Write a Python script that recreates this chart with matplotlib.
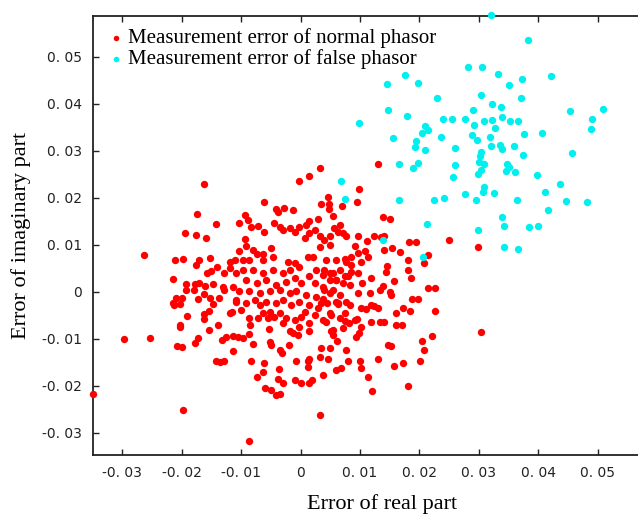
import numpy as np
import matplotlib
matplotlib.use("Agg")
import matplotlib.pyplot as plt
from matplotlib.ticker import FuncFormatter

# measurement errors of the normal phasor (real part, imaginary part), in 1e-3
normal_x = [13.0, 9.8, 9.5, 7.0, 4.6, 13.8, 15.1, 24.9, 29.9, 18.3, 19.5, 3.2,
            30.4, 21.4, 22.6, 22.6, 22.1, 20.5, 20.8, 20.1, 18.1, 12.0, 11.3, 10.2, 10.0, 13.0, 15.8, 17.3,
            3.2, 3.7, 5.9, 6.8, 7.9, 4.7, 5.0, 7.6, 14.7, 15.2, 18.7, 19.7, 18.4, 17.2, 16.0, 16.0, 17.0,
            18.0, 18.5, 20.8, 14.5, 14.4, 15.8, 15.0, 15.2, 13.8, 13.4, 11.9, 11.6, 10.3, 9.6, 10.2, 11.0,
            12.4, 11.9, 13.0, 11.9, 13.3, 14.1, 10.2, 9.1, 9.5, 8.2, 7.4, 6.6, 5.2, 4.3, 3.7, 7.2, 5.4,
            9.4, 9.9, 6.1, 8.4, 7.6, 6.3, 4.4, 3.7, 5.4, 4.0, 7.2, 8.4, 6.0, 4.9, 5.4, 6.6, 8.5, 7.7,
            10.2, 4.0,
            7.7, 9.6, 11.2, 12.3, 13.6, 14.1, 14.0, 15.4, 16.8, 18.0, 9.1, 9.7, 10.8, 11.3, 8.5, 21.4,
            8.5, 9.6, 7.9,
            -16.3, -17.4, -14.2, -19.5, -17.6, -15.9, -26.4, -21.1, -19.7, -17.0, -15.3, -17.5, -11.9,
            -14.0, -15.7, -15.0, -12.8, -21.5, -19.3, -17.8, -17.1, -16.1, -14.7, -19.2, -18.0, -16.3,
            -13.1, -12.8, -13.7, -15.3, -17.3, -20.9, -19.9, -21.5,
            -29.7, -25.4, -21.2, -20.3, -19.1, -20.2, -20.2, -16.3, -16.3, -15.4, -14.8, -11.9, -13.9,
            -15.4, -20.8, -19.9, -17.7, -17.3, -13.2, -12.5, -14.3, -13.5, -12.8, -19.8, -34.9, -8.6,
            -11.3, -11.4, -10.5, -9.6, -8.7, -8.0, -8.4, -6.2, -6.3, -7.4, -5.9, -4.9, -4.1, -3.5, -3.7,
            -3.8, -2.9, -5.1, -4.9, -3.4, -3.1, -2.0, -0.7, -1.0, 0.1, 1.4, 1.9, 1.3, 1.3, 1.5, 3.2, 3.5,
            -10.8, -10.0, -8.6, -8.5, -7.2, -6.3, -5.2, -4.4, -5.3, -3.5, -3.0, -1.8, -1.3, -0.5, -0.2,
            -1.0, 0.1, 1.5, 1.5, 2.4, 2.9, 5.2, 5.4, 4.9, 7.4, 6.3, 3.5, -1.6, 1.5, -4.1, -6.9, -9.1,
            -5.5, -2.4, 0.8, -11.5,
            1.5, -0.3, -6.1, -4.2, -3.8, -2.7, -1.3, 3.5, 4.8, 4.8, 2.9, 5.4, -9.4, -8.9, -10.4, -8.3,
            -7.2, -6.1, -4.4, -3.5, -3.0, -1.8, -1.0, -0.2, 1.0, 1.5, 2.4, 3.2, 4.0, 4.9, 5.7, 6.3, 7.1,
            6.6, 1.5, 0.7, 3.2, 4.9, -9.4, -9.1, -10.3, -8.0, -7.4, -6.3, -4.9, -4.7, -11.1, -9.7, -8.6,
            -6.3, 1.2, 2.1, 4.3, 6.0, 7.4, -2.1, -1.0, -0.2, -1.8, -3.0, -4.7, -6.3, -8.0, -9.7, -10.8,
            -11.9, -9.1, -7.4, -5.8, -4.1, -2.4, -1.0, 0.1, 1.5, 2.6, 3.7, 4.9, 6.0, 7.4, 2.4, 3.7,
            -11.4, -10.3, -8.6, -6.9, -5.2, -3.5, -1.8, -0.7, 1.0, 2.6, 4.9, 6.6, -10.8, -7.7, -5.8,
            -3.0, -0.2, 6.0]
normal_y = [27.2, 21.9, 19.1, 18.2, 20.1, 15.9, 15.5, 11.1, 9.6, 10.7, 10.7, 26.3,
            -8.6, 0.9, 0.9, -4.0, -9.3, -10.4, -12.3, -14.6, -20.1, -21.0, -18.0, -16.2, -14.8, -14.3,
            -15.7, -15.2, -26.2, -17.7, -16.6, -16.2, -14.6, -14.2, -12.0, -12.3, -11.4, -11.5, -1.6,
            -1.6, -4.0, -3.5, -4.5, -7.1, -7.1, 4.7, 2.9, 6.2, 5.6, 4.2, 2.3, -0.1, -0.6, 1.3, 0.4, 2.9,
            -0.2, 1.9, -0.3, -3.5, -3.7, -3.1, -2.8, -3.5, -6.3, -6.3, -6.5, -7.4, -6.0, -5.8, -6.7,
            -6.1, -5.6, -4.9, -6.3, -6.0, -7.7, -8.1, -9.5, -8.8, -10.4, -2.8, -2.1, -2.3, -2.4, -1.6,
            0.4, 0.4, 1.9, 1.5, 2.6, 2.6, 4.0, 4.7, 5.7, 6.4, 6.4, 4.7,
            11.8, 11.8, 10.9, 11.8, 11.6, 11.9, 8.9, 9.4, 8.4, 6.8, 9.8, 8.2, 8.6, 7.5, 7.5, 7.9,
            4.3, 4.1, 3.3,
            22.9, 16.6, 14.5, 12.6, 12.1, 11.5, 7.8, 6.7, 6.9, 6.7, 7.2, 5.7, 6.4, 5.2, 4.0, 4.5, 4.0,
            2.8, 1.7, 1.7, 2.0, 1.3, 1.7, 0.4, 0.4, -0.5, 1.1, 0.4, -1.2, -1.3, -1.6, -1.3, -1.2, -2.4,
            -10.1, -9.9, -2.8, -2.6, -5.1, -7.0, -7.5, -4.7, -5.7, -4.0, -2.6, -4.4, -7.0, -8.1, -11.5,
            -11.8, -10.8, -9.9, -10.2, -9.6, -14.7, -15.0, -14.7, -25.2, -21.7, -31.7,
            -12.5, -9.4, -9.5, -9.9, -8.9, -11.1, -14.6, -15.2, -17.0, -18.2, -20.4, -20.9, -21.9,
            -21.8, -16.5, -18.6, -19.4, -10.6, -11.3, -12.3, -13.0, -11.4, -14.6, -18.7, -19.3, -19.4,
            -18.7, -14.8, -15.9, -14.3, -13.9, -12.0,
            -2.1, -3.8, -5.6, -7.0, -5.6, -4.5, -4.2, -5.3, -7.9, -4.5, -6.7, -8.4, -8.8, -9.1, -7.4,
            -6.0, -5.3, -6.7, -8.4, -4.9, -3.5, -8.4, -9.1, -4.5, -4.5, -2.6, -2.4, -2.8, -2.8, -2.4,
            -2.8, -2.4, -5.6, -5.6, -4.2, -4.2,
            24.7, 23.7, 19.1, 17.7, 17.1, 17.8, 17.4, 18.7, 18.7, 17.6, 15.5, 16.2, 16.4, 15.3, 14.6,
            13.9, 14.0, 12.8, 14.6, 13.9, 13.2, 13.5, 12.8, 13.9, 14.3, 15.0, 13.2, 11.8, 11.1, 11.8,
            13.5, 12.8, 12.5, 14.3, 12.5, 11.4, 9.6, 10.0, 11.2, 9.8, 8.6, 8.9, 8.0, 8.0, 9.3, 7.5, 6.8,
            6.8, 6.8, 6.8, 7.4, 7.4, 6.8, 6.8, 7.0, 6.4, 6.1, 5.4, 4.7, 4.0, 4.7, 4.0, 4.7, 4.7, 4.0,
            5.0, 2.6, 1.9, 2.6, 1.5, 2.2, 2.9, 1.9, 3.3, 4.7, 3.6, 4.0, 2.6, 3.3, 1.9, 1.1,
            1.1, 0.1, 0.1, -0.3, 0.1, 0.4, -0.3, 0.1, -0.6, -1.0, -0.3, -0.6, -1.7, -1.7, -2.1,
            -1.7, -2.1, -2.1]

# measurement errors of the false phasor, in 1e-3
false_x = [32.0, 38.2, 28.1, 30.5, 33.2, 37.3, 42.2, 14.6, 17.6, 19.7, 35.1, 22.9, 30.3, 37.0,
           14.7, 17.9, 9.8, 29.0, 32.2, 33.7, 24.0, 25.4, 27.6, 30.9, 32.2, 33.9, 35.2, 36.5, 29.1,
           32.7, 45.4, 50.8, 49.1, 48.9, 21.0, 21.4, 20.5, 23.7, 15.5, 19.4, 19.2, 28.9, 29.6, 31.9,
           37.5, 40.6, 25.9, 21.0, 32.0, 33.6, 33.8, 35.9, 30.4, 30.1, 37.4, 45.6, 16.5, 19.7, 18.9,
           25.9, 30.0, 30.9, 34.8, 35.1, 34.5, 36.1, 25.6, 30.4, 29.9, 39.7, 6.8, 43.6, 30.8, 30.7,
           32.5, 27.7, 41.1, 7.4, 16.6, 22.4, 24.1, 29.5, 36.4, 44.6, 48.1, 41.6, 33.8, 21.2, 34.2,
           38.4, 39.9, 29.8, 13.8, 34.2, 36.6, 20.6]
false_y = [58.9, 53.5, 47.9, 47.9, 46.4, 45.3, 46.0, 44.3, 46.2, 44.5, 44.0, 41.3, 41.8, 41.2,
           38.7, 37.4, 35.9, 38.7, 39.9, 39.4, 36.8, 36.8, 36.7, 36.4, 36.6, 37.3, 36.4, 36.4, 35.6,
           34.8, 38.4, 38.9, 36.7, 34.6, 35.3, 34.5, 33.8, 33.0, 32.7, 32.1, 30.9, 33.3, 32.3, 32.9,
           33.7, 33.8, 30.7, 30.1, 31.1, 31.2, 30.5, 31.1, 29.7, 28.9, 29.2, 29.5, 27.2, 27.5, 26.4,
           26.9, 27.6, 27.3, 27.2, 26.5, 25.7, 25.6, 24.4, 26.0, 25.0, 24.8, 23.5, 23.0, 22.3, 21.2,
           21.1, 20.9, 21.3, 19.7, 19.6, 19.5, 20.0, 19.6, 19.6, 19.3, 19.2, 17.4, 16.0, 14.5, 14.0,
           13.8, 14.0, 13.2, 11.0, 9.6, 9.2, 7.5]

xticks = [-0.03, -0.02, -0.01, 0, 0.01, 0.02, 0.03, 0.04, 0.05]
yticks = [-0.03, -0.02, -0.01, 0, 0.01, 0.02, 0.03, 0.04, 0.05]

nx = np.array(normal_x) / 1000
ny = np.array(normal_y) / 1000
fx = np.array(false_x) / 1000
fy = np.array(false_y) / 1000

fig = plt.figure(figsize=(6.38, 5.16), dpi=100)
# right edge of the axes lies past the picture, as in the reference crop
ax = fig.add_axes([0.1458, 0.1182, 0.9059, 0.8508])

ax.scatter(nx, ny, s=28, color='#ff0000', linewidths=0,
           label='Measurement error of normal phasor', clip_on=False, zorder=3)
ax.scatter(fx, fy, s=28, color='#00f0f0', linewidths=0,
           label='Measurement error of false phasor', clip_on=False, zorder=3)

ax.set_xlim(-0.0349, 0.0623)
ax.set_ylim(-0.0347, 0.0587)
ax.set_xticks(xticks)
ax.set_yticks(yticks)

def fmt(v, pos):
    if abs(v) < 1e-9:
        return '0'
    return ('%.2f' % v).replace('.', '. ')

ax.xaxis.set_major_formatter(FuncFormatter(fmt))
ax.yaxis.set_major_formatter(FuncFormatter(fmt))
ax.tick_params(direction='in', length=4, width=1, top=True, right=False,
               labelsize=10, pad=8, colors='#222222')
for lab in ax.get_xticklabels() + ax.get_yticklabels():
    lab.set_family('DejaVu Sans')

ax.spines['right'].set_visible(False)
for s in ['left', 'bottom', 'top']:
    ax.spines[s].set_linewidth(1.3)
    ax.spines[s].set_color('#222222')

ax.set_xlabel('Error of real part', family='Liberation Serif', fontsize=16, labelpad=10)
ax.set_ylabel('Error of imaginary part', family='Liberation Serif', fontsize=16, labelpad=8)

leg = ax.legend(loc='upper left', frameon=False, prop={'family': 'Liberation Serif', 'size': 15},
                handletextpad=0.1, handlelength=1.0, borderaxespad=0.2, labelspacing=0.05,
                scatterpoints=1, markerscale=0.75)

fig.savefig('out.png', dpi=100)
